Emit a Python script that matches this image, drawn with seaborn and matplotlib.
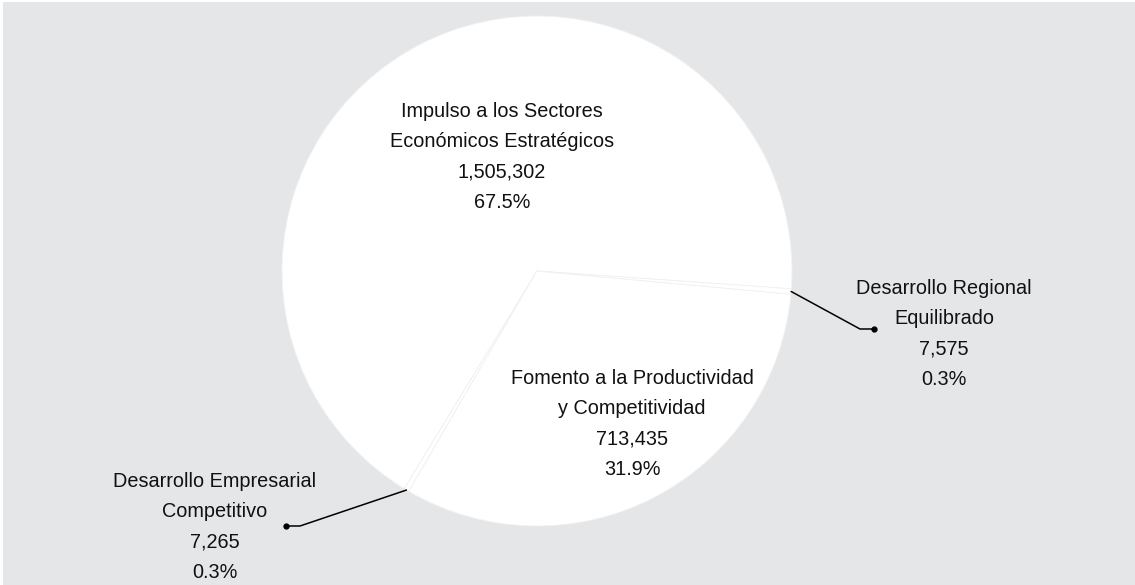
import numpy as np
import seaborn as sns
import matplotlib
matplotlib.use("Agg")
import matplotlib.pyplot as plt
from matplotlib.patches import Rectangle

# data
names = ["Impulso a los Sectores\nEconómicos Estratégicos",
         "Desarrollo Empresarial\nCompetitivo",
         "Fomento a la Productividad\ny Competitividad",
         "Desarrollo Regional\nEquilibrado"]
values = [1505302, 7265, 713435, 7575]
pct_labels = ["67.5%", "0.3%", "31.9%", "0.3%"]

sns.set_theme(style="white")
plt.rcParams['font.family'] = ['Liberation Sans', 'DejaVu Sans']

W, H = 1135, 585
bg = '#e5e6e8'
txt = '#111111'

fig = plt.figure(figsize=(W / 100, H / 100), dpi=100)
fig.patch.set_facecolor('white')
fig.add_artist(Rectangle((3 / W, 0), 1, 1 - 2 / H, transform=fig.transFigure,
                         facecolor=bg, edgecolor='none', zorder=0))

ax = fig.add_axes([0, 0, 1, 1])
ax.patch.set_alpha(0)
cx, cy, r = 537, H - 271, 255
wedges, _ = ax.pie(values, colors=['white'] * 4, startangle=-4.0, counterclock=True,
                   center=(cx, cy), radius=r,
                   wedgeprops=dict(edgecolor='#f1f1f1', linewidth=0.6))
ax.set_xlim(0, W)
ax.set_ylim(0, H)
ax.set_aspect('equal')
ax.axis('off')

labels = [f"{n}\n{v:,}\n{p}" for n, v, p in zip(names, values, pct_labels)]
# label centres (pixels, y from top)
label_pos = [(502, 157), (215, 527), (632, 424), (944, 334)]
for lab, (x, y) in zip(labels, label_pos):
    ax.text(x, H - y, lab, ha='center', va='center', fontsize=14.3,
            color=txt, linespacing=1.75)

# leader lines for the two small slices
leaders = {1: ((300, 526), (286, 526)), 3: ((860, 329), (874, 329))}
for i, (elbow, dot) in leaders.items():
    w = wedges[i]
    mid = np.deg2rad((w.theta1 + w.theta2) / 2)
    sx, sy = cx + r * np.cos(mid), cy + r * np.sin(mid)
    ax.plot([sx, elbow[0], dot[0]], [sy, H - elbow[1], H - dot[1]],
            color='black', lw=1.1)
    ax.plot(dot[0], H - dot[1], 'o', color='black', ms=3.5)

fig.savefig("out.png", dpi=100, facecolor=fig.get_facecolor())
